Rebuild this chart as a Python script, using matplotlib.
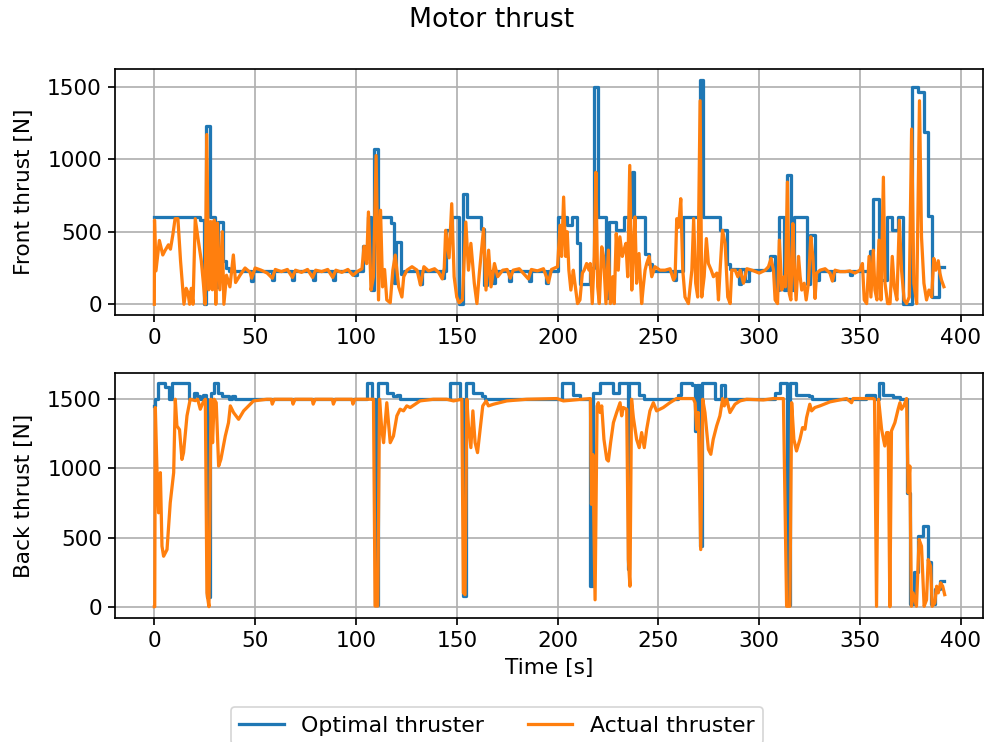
import matplotlib
matplotlib.use("Agg")
import matplotlib.pyplot as plt

# ---------------- data ----------------
# Front thruster, optimal (piecewise constant, value holds until next time)
t_front_opt = [0, 22.5, 24.5, 25.8, 27.8, 30.0, 31.5, 34.0, 35.5, 37.0, 48.0, 49.0, 58.5, 59.5,
               68.5, 69.5, 78.5, 79.5, 88.5, 89.5, 99.0, 100.5, 103.6, 106.0, 107.6, 108.8, 111.0,
               117.2, 118.8, 120.0, 122.4, 124.0, 132.0, 133.0, 142.5, 143.5, 144.5, 147.5, 151.2,
               153.0, 155.3, 162.0, 163.5, 165.0, 168.0, 169.0, 176.0, 177.0, 186.0, 187.0, 194.5,
               195.5, 200.0, 204.5, 207.0, 209.5, 211.0, 216.0, 218.2, 220.0, 224.2, 225.5, 228.8,
               233.0, 236.8, 237.8, 243.6, 245.3, 247.0, 257.5, 258.5, 262.3, 270.6, 272.3, 280.5,
               284.0, 285.5, 290.0, 291.0, 293.0, 295.0, 305.4, 308.0, 310.0, 312.5, 313.7, 315.8,
               317.5, 323.6, 325.2, 327.7, 329.5, 336.0, 337.0, 345.0, 346.0, 355.0, 356.6, 359.6,
               363.2, 365.7, 369.0, 371.4, 375.6, 378.9, 381.8, 383.8, 385.5, 389.4, 391.7]
front_opt = [600, 580, 0, 1230, 600, 120, 570, 300, 250, 230, 160, 230, 170, 230,
             170, 230, 170, 230, 170, 230, 200, 230, 405, 600, 100, 1070, 600,
             560, 150, 430, 210, 230, 140, 230, 180, 230, 510, 600, 0,
             760, 600, 520, 130, 230, 150, 230, 160, 230, 160, 230, 150,
             230, 600, 545, 600, 420, 140, 250, 1500, 600, 40, 570, 510,
             600, 915, 600, 350, 280, 230, 170, 230, 600, 1545, 600, 510,
             280, 240, 140, 240, 160, 235, 330, 100, 600, 100, 890, 100,
             600, 140, 480, 170, 230, 170, 230, 200, 230, 370, 725, 170,
             600, 510, 600, 0, 1500, 1465, 1185, 610, 50, 255, 255]

# Front thruster, actual
t_front_act = [0.0, 0.1, 0.8, 2.5, 4.2, 5.3, 7.0, 8.0, 9.2, 10.3, 11.7, 13.0, 14.7, 15.8, 16.7,
               17.5, 18.3, 19.2, 20.3, 21.7, 23.3, 24.3, 25.2, 26.0, 27.0, 28.0, 28.8, 29.7,
               30.5, 31.3, 32.5, 33.7, 34.5, 35.8, 37.5, 39.2, 40.3, 42.5, 45.0, 47.5, 48.3,
               50.0, 53.0, 56.0, 58.5, 60.0, 63.0, 66.0, 68.5, 70.0, 73.0, 76.0, 78.5, 80.0,
               83.0, 86.0, 88.5, 90.0, 93.0, 96.0, 98.5, 100.6, 103.0, 104.0, 105.3, 106.2,
               107.5, 108.7, 110.0, 111.2, 112.2, 113.2, 114.2, 115.3, 117.0, 118.3, 119.5,
               121.2, 122.8, 123.7, 125.3, 127.8, 130.3, 132.0, 133.7, 136.0, 139.0, 141.0,
               142.8, 143.8, 144.5, 146.2, 147.5, 148.7, 150.0, 151.2, 152.8, 154.5, 155.8,
               157.0, 158.7, 160.0, 161.2, 163.3, 164.5, 165.8, 167.0, 168.7, 170.3, 172.8,
               175.0, 176.5, 178.0, 181.0, 185.5, 187.0, 190.0, 193.0, 195.5, 197.0, 200.0,
               201.2, 202.0, 203.0, 204.0, 204.8, 205.6, 206.6, 207.8, 208.6, 209.9, 211.1,
               212.3, 213.2, 214.4, 215.6, 216.2, 217.2, 218.2, 219.0, 219.9, 220.7, 221.9,
               222.8, 224.0, 225.2, 226.2, 227.3, 228.1, 229.1, 230.1, 230.9, 232.1, 232.9,
               233.9, 234.8, 235.8, 236.8, 237.6, 238.4, 239.2, 240.4, 241.7, 242.5, 243.4,
               244.2, 245.4, 246.7, 248.3, 250.8, 253.3, 255.8, 257.5, 258.3, 259.1, 260.0,
               261.1, 262.1, 263.2, 264.9, 266.6, 267.5, 268.5, 269.5, 270.7, 271.5, 272.7,
               273.8, 274.8, 276.2, 277.3, 279.0, 279.8, 280.6, 281.8, 283.1, 284.4, 285.6,
               286.4, 288.1, 289.4, 290.6, 292.2, 293.9, 296.4, 300.0, 303.0, 304.6, 305.9,
               307.1, 307.9, 309.1, 310.0, 311.2, 312.4, 313.0, 314.0, 314.9, 315.7, 316.7,
               317.5, 318.3, 319.5, 320.3, 321.1, 322.3, 323.3, 324.4, 325.6, 326.6, 327.7,
               328.5, 330.2, 332.7, 335.1, 336.3, 337.6, 340.1, 342.6, 345.0, 347.5, 350.0,
               351.2, 352.1, 353.3, 354.5, 355.4, 356.6, 357.4, 358.4, 359.4, 360.4, 361.6,
               362.4, 363.7, 364.9, 366.0, 367.0, 368.3, 369.5, 370.6, 371.9, 373.1, 374.4,
               375.6, 376.7, 378.1, 379.5, 380.5, 381.7, 383.0, 384.2, 385.5, 386.6, 387.6,
               388.8, 389.6, 390.4, 391.6]
front_act = [0, 580, 230, 440, 340, 370, 410, 380, 480, 590, 590, 300, 0, 110, 80,
             0, 110, 0, 590, 450, 300, 150, 0, 1170, 100, 570, 100, 580,
             0, 560, 100, 500, 0, 200, 120, 340, 150, 200, 250, 220, 180,
             250, 235, 215, 180, 240, 225, 240, 185, 235, 220, 240, 185, 235,
             225, 240, 185, 235, 220, 240, 200, 225, 245, 400, 280, 636,
             98, 190, 1025, 30, 648, 120, 240, 30, 10, 235, 339,
             120, 50, 190, 235, 259, 235, 133, 259, 230, 245, 220,
             175, 250, 510, 320, 693, 190, 50, 10, 30, 567, 235,
             420, 145, 5, 215, 522, 98, 373, 120, 281, 190, 235,
             240, 180, 235, 245, 175, 240, 230, 245, 150, 240, 259,
             545, 330, 739, 330, 500, 235, 98, 235, 145, 5, 30,
             215, 235, 281, 235, 281, 5, 330, 910, 120, 5, 396,
             330, 5, 373, 5, 190, 5, 487, 235, 465, 330, 373,
             420, 190, 957, 98, 373, 602, 145, 350, 5, 120, 235,
             281, 330, 190, 259, 235, 235, 245, 167, 190, 590, 530,
             728, 235, 50, 5, 235, 590, 145, 50, 1403, 50, 190,
             453, 281, 235, 190, 215, 30, 235, 510, 420, 50, 5,
             235, 235, 190, 235, 145, 245, 235, 215, 235, 259, 316,
             235, 30, 5, 442, 98, 190, 120, 842, 75, 30, 556,
             235, 30, 330, 190, 98, 145, 30, 145, 465, 330, 40,
             215, 235, 245, 215, 160, 235, 225, 225, 230, 215, 235,
             281, 30, 5, 330, 50, 373, 98, 30, 442, 30, 876,
             145, 5, 5, 330, 120, 30, 579, 235, 30, 5, 50,
             1208, 145, 5, 1403, 465, 145, 30, 98, 50, 316, 235,
             300, 215, 167, 121]

# Back thruster, optimal (piecewise constant)
t_back_opt = [0, 0.5, 1.8, 5.5, 7.2, 8.8, 17.0, 19.5, 21.0, 22.5, 24.0, 25.5, 26.3, 27.5,
              28.2, 29.7, 31.7, 33.5, 37.0, 38.5, 40.0, 105.4, 107.9, 109.5, 111.0, 115.3,
              118.6, 120.3, 122.0, 146.7, 151.7, 153.2, 154.6, 158.3, 162.4, 164.0, 202.0,
              207.8, 211.0, 216.1, 217.7, 221.0, 227.7, 230.7, 235.0, 235.6, 240.5, 243.0,
              259.5, 261.3, 266.5, 268.2, 269.0, 270.5, 271.5, 278.1, 281.0, 283.0, 307.8,
              310.3, 313.6, 315.2, 318.5, 324.5, 326.0, 353.2, 357.4, 359.4, 361.5, 366.5,
              369.8, 373.1, 374.8, 376.8, 378.8, 381.2, 383.8, 385.2, 387.0, 389.5, 391.7]
back_opt = [1450, 1500, 1620, 1590, 1500, 1620, 1500, 1545, 1520, 1500, 1530, 1500, 70, 1480,
            1545, 1620, 1545, 1520, 1500, 1520, 1500, 1620, 1500, 10, 1620, 1545,
            1520, 1530, 1500, 1620, 1500, 80, 1620, 1545, 1520, 1500, 1620,
            1530, 1500, 147, 1545, 1620, 1545, 1620, 270, 1620, 1530, 1500,
            1530, 1620, 1600, 1270, 1600, 440, 1620, 1500, 1600, 1500, 1545,
            1620, 10, 1620, 1530, 1520, 1500, 1530, 1500, 1620, 1530, 1515,
            1500, 820, 20, 250, 510, 580, 320, 20, 125, 185, 185]

# Back thruster, actual
t_back_act = [0.0, 0.2, 0.5, 1.3, 2.1, 3.0, 3.8, 4.6, 6.3, 7.9, 9.6, 10.4, 11.2, 12.5, 13.7,
              14.5, 16.2, 17.8, 20.3, 21.5, 22.8, 24.1, 25.3, 26.1, 27.1, 28.1, 28.9, 29.7,
              30.7, 31.9, 33.0, 35.2, 36.8, 37.7, 39.3, 41.8, 44.3, 49.2, 55.8, 58.0, 58.5,
              59.5, 68.3, 68.8, 69.8, 78.3, 78.8, 79.8, 88.3, 88.8, 89.8, 98.0, 98.5, 99.5,
              108.7, 109.5, 110.8, 111.7, 112.8, 113.7, 115.3, 117.0, 118.6, 120.3, 121.9,
              123.6, 125.2, 126.9, 131.8, 138.4, 145.0, 148.4, 152.5, 153.3, 154.1, 155.0,
              155.8, 157.0, 158.0, 159.1, 160.3, 161.6, 162.9, 164.6, 165.7, 168.2, 174.8,
              184.7, 199.6, 202.9, 216.3, 216.8, 217.5, 218.6, 219.6, 220.2, 221.1, 221.9,
              223.0, 224.4, 225.2, 226.3, 227.7, 229.3, 231.0, 231.8, 232.6, 234.3, 235.1,
              235.9, 236.7, 237.6, 239.2, 240.5, 241.7, 243.0, 244.2, 245.8, 247.5, 249.1,
              252.4, 255.7, 259.0, 267.3, 268.2, 269.0, 269.8, 271.0, 272.0, 273.1, 274.8,
              276.0, 277.2, 278.9, 280.5, 281.9, 282.7, 283.9, 285.5, 288.0, 290.5, 293.8,
              302.0, 307.0, 312.0, 313.6, 315.2, 316.1, 317.2, 318.5, 320.2, 321.5, 322.7,
              323.5, 325.1, 326.0, 327.6, 330.1, 335.1, 343.3, 345.8, 346.6, 356.5, 357.2,
              358.2, 359.2, 360.7, 362.3, 363.2, 364.0, 364.8, 365.6, 367.3, 368.9, 369.8,
              370.6, 371.7, 373.1, 373.9, 374.7, 375.5, 376.3, 378.0, 379.3, 380.5, 381.8,
              383.0, 383.8, 385.0, 385.8, 387.1, 388.0, 388.8, 390.0, 391.0, 392.0]
back_act = [0, 0, 1440, 993, 679, 969, 438, 365, 413, 752, 969, 1500, 1307, 1280, 1065,
            1114, 1380, 1500, 1490, 1500, 1428, 1475, 1500, 100, 0, 1500, 1186, 1500,
            1475, 1017, 1065, 1234, 1331, 1452, 1404, 1355, 1416, 1488, 1500, 1500, 1465,
            1500, 1500, 1465, 1500, 1500, 1465, 1500, 1500, 1465, 1500, 1500, 1465, 1500,
            1500, 5, 5, 1500, 1283, 1186, 1475, 1186, 1234, 1380, 1428,
            1416, 1452, 1440, 1488, 1500, 1500, 1488, 1500, 100, 87, 1500,
            1307, 1150, 1416, 1186, 1114, 1283, 1452, 1488, 1452, 1464, 1488,
            1500, 1505, 1488, 1505, 740, 1100, 50, 1450, 1475, 1404, 1452,
            1210, 1065, 1053, 1186, 1331, 1404, 1475, 1380, 1440, 1428, 341,
            148, 1500, 1367, 1210, 1150, 1259, 1150, 1283, 1416, 1475, 1416,
            1440, 1475, 1505, 1505, 1475, 1283, 1404, 413, 1500, 1404, 1138,
            1102, 1210, 1307, 1380, 1505, 1452, 1500, 1404, 1464, 1488, 1500,
            1495, 1505, 1505, 3, 3, 1475, 1210, 1126, 1210, 1295, 1283,
            1367, 1464, 1416, 1440, 1452, 1481, 1505, 1475, 1505, 1505, 1500,
            3, 1500, 1283, 1162, 1259, 1259, 0, 1271, 1331, 1428, 1475,
            1428, 1452, 1505, 824, 1017, 3, 100, 3, 486, 438, 3,
            50, 341, 293, 3, 27, 148, 100, 172, 148, 87]

title = "Motor thrust"
front_label = "Front thrust [N]"
back_label = "Back thrust [N]"
x_label = "Time [s]"
legend_labels = ["Optimal thruster", "Actual thruster"]
x_ticks = [0, 50, 100, 150, 200, 250, 300, 350, 400]
y_ticks = [0, 500, 1000, 1500]

# ---------------- plot ----------------
DPI = 123
plt.rcParams["font.size"] = 12.7
plt.rcParams["axes.linewidth"] = 1.0
plt.rcParams["grid.linewidth"] = 1.0
plt.rcParams["xtick.major.width"] = 1.0
plt.rcParams["ytick.major.width"] = 1.0
plt.rcParams["xtick.major.size"] = 4.2
plt.rcParams["ytick.major.size"] = 4.2
fig = plt.figure(figsize=(984 / DPI, 742 / DPI), dpi=DPI)
W, H = 984.0, 742.0
ax1 = fig.add_axes([115 / W, 1 - 315 / H, 868 / W, 245.7 / H])
ax2 = fig.add_axes([115 / W, 1 - 618.3 / H, 868 / W, 245.6 / H])

blue = "#1f77b4"
orange = "#ff7f0e"
LW = 1.9

l1, = ax1.plot(t_front_opt, front_opt, color=blue, lw=LW, drawstyle="steps-post")
l2, = ax1.plot(t_front_act, front_act, color=orange, lw=LW)
ax2.plot(t_back_opt, back_opt, color=blue, lw=LW, drawstyle="steps-post")
ax2.plot(t_back_act, back_act, color=orange, lw=LW)

for ax in (ax1, ax2):
    ax.set_xlim(-19.5, 411)
    ax.set_xticks(x_ticks)
    ax.set_yticks(y_ticks)
    ax.grid(True)
ax1.set_ylim(-74, 1620)
ax2.set_ylim(-84, 1692)

ax1.set_ylabel(front_label, labelpad=7.5)
ax2.set_ylabel(back_label, labelpad=7.5)
ax2.set_xlabel(x_label)
fig.suptitle(title, y=0.99, fontsize=15.6)

fig.legend([l1, l2], legend_labels, loc="upper center", bbox_to_anchor=(0.505, 0.062),
           ncol=2, fontsize=12.9)

fig.savefig("out.png", dpi=DPI)
